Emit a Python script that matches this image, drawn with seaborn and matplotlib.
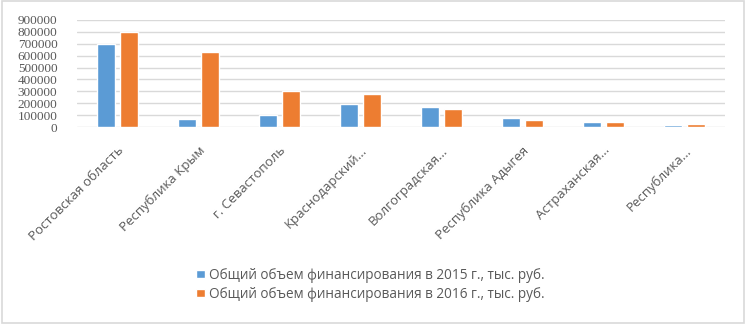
import pandas as pd
import matplotlib
matplotlib.use("Agg")
import matplotlib.pyplot as plt
import seaborn as sns
from matplotlib.patches import Rectangle

# Данные
regions = ["Ростовская область", "Республика Крым", "г. Севастополь", "Краснодарский...",
           "Волгоградская...", "Республика Адыгея", "Астраханская...", "Республика..."]
vals_2015 = [695000, 71000, 99000, 192000, 166000, 76000, 42000, 14000]
vals_2016 = [797000, 628000, 301000, 279000, 155000, 57000, 45000, 23000]
series = ["Общий объем финансирования в 2015 г., тыс. руб.",
          "Общий объем финансирования в 2016 г., тыс. руб."]
yticks = [0, 100000, 200000, 300000, 400000, 500000, 600000, 700000, 800000, 900000]

df = pd.DataFrame({
    "Регион": regions * 2,
    "Значение": vals_2015 + vals_2016,
    "Серия": [series[0]] * len(regions) + [series[1]] * len(regions),
})

sns.set_theme(style="white")
plt.rcParams["font.family"] = ["Open Sans", "DejaVu Sans"]
text_col = "#595959"

fig = plt.figure(figsize=(7.46, 3.26), dpi=100)
ax = fig.add_axes([0.103, 0.61, 0.869, 0.329])

sns.barplot(data=df, x="Регион", y="Значение", hue="Серия",
            palette=["#5b9bd5", "#ed7d31"], width=0.58, gap=0.23,
            saturation=1, ax=ax)

ax.set_ylim(0, 900000)
ax.set_yticks(yticks)
ax.set_yticklabels([str(v) for v in yticks], family=["Liberation Serif"],
                   fontsize=9.5, color=text_col)
ax.yaxis.grid(True, color="#d9d9d9", linewidth=1)
ax.set_axisbelow(True)
for s in ax.spines.values():
    s.set_visible(False)
ax.tick_params(axis="y", length=0, pad=14)
ax.tick_params(axis="x", length=0, pad=12)
ax.set_xlabel("")
ax.set_ylabel("")
plt.setp(ax.get_xticklabels(), rotation=45, ha="right", rotation_mode="anchor",
         fontsize=9.5, color=text_col)

ax.get_legend().remove()
handles, labels = ax.get_legend_handles_labels()
leg = fig.legend(handles, labels, loc="upper center", bbox_to_anchor=(0.497, 0.195),
                 ncol=1, frameon=False, fontsize=9.8, handlelength=0.6, handleheight=0.6,
                 handletextpad=0.35, labelspacing=0.3, borderaxespad=0)
for t in leg.get_texts():
    t.set_color(text_col)

fig.patches.append(Rectangle((0.003, 0.008), 0.994, 0.989, transform=fig.transFigure,
                             fill=False, edgecolor="#d9d9d9", linewidth=1.2))

fig.savefig("out.png", dpi=100)
